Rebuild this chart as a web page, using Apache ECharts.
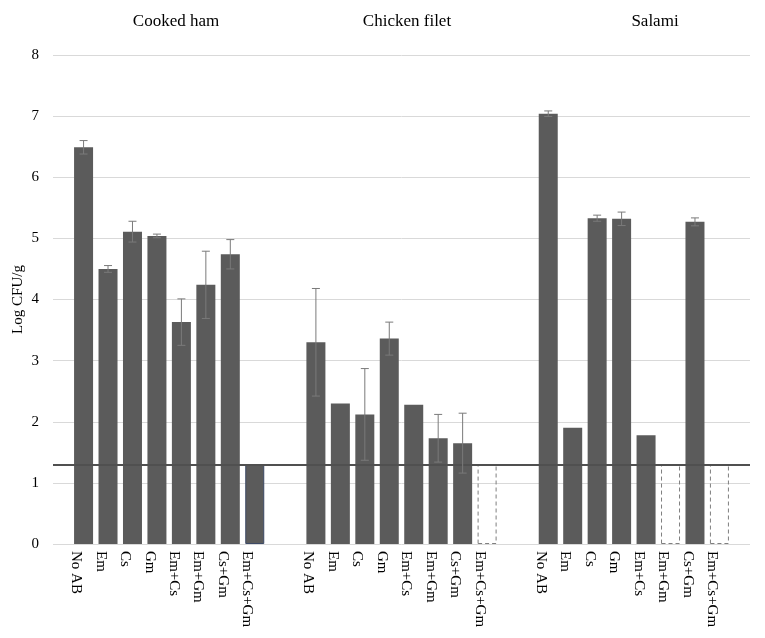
<!DOCTYPE html>
<html>
<head>
<meta charset="utf-8">
<script src="https://cdn.jsdelivr.net/npm/echarts@6/dist/echarts.min.js"></script>
<style>html,body{margin:0;padding:0;background:#fff}#c{width:765px;height:638px}</style>
</head>
<body>
<div id="c"></div>
<script>
var categories = ['No AB','Em','Cs','Gm','Em+Cs','Em+Gm','Cs+Gm','Em+Cs+Gm'];
var groups = ['Cooked ham','Chicken filet','Salami'];
var hamMeans = [6.49, 4.50, 5.11, 5.04, 3.63, 4.24, 4.74, 1.30];
var hamErr = [0.11, 0.055, 0.17, 0.03, 0.38, 0.55, 0.24, 0];
var chickenMeans = [3.30, 2.30, 2.12, 3.36, 2.28, 1.73, 1.65, null];
var chickenErr = [0.88, 0.01, 0.75, 0.27, 0.01, 0.39, 0.49, 0];
var salamiMeans = [7.04, 1.90, 5.33, 5.32, 1.78, null, 5.27, null];
var salamiErr = [0.045, 0.01, 0.05, 0.11, 0.01, 0, 0.065, 0];
var detectionLimit = 1.3;
var yTicks = [0,1,2,3,4,5,6,7,8];

var means = [hamMeans, chickenMeans, salamiMeans];
var errs = [hamErr, chickenErr, salamiErr];
var groupStart = [1.25, 10.75, 20.25];
var xMax = 28.5;

var barData = [], errData = [], labelPos = [], labelText = {};
for (var g = 0; g < 3; g++) {
  for (var i = 0; i < categories.length; i++) {
    var x = groupStart[g] + i;
    labelPos.push(x);
    labelText[x.toFixed(2)] = categories[i];
    var m = means[g][i];
    if (m === null) {
      barData.push({value: [x, detectionLimit], itemStyle: {color: 'rgba(255,255,255,0)', borderColor: '#7f7f7f', borderWidth: 1, borderType: [4, 3]}});
    } else if (g === 0 && i === 7) {
      barData.push({value: [x, m], itemStyle: {color: '#5b5b5b', borderColor: '#3d4a66', borderWidth: 1}});
    } else {
      barData.push({value: [x, m]});
    }
    if (m !== null && errs[g][i] > 0.02) errData.push([x, m, errs[g][i]]);
  }
}

var chart = echarts.init(document.getElementById('c'));
var font = 'Liberation Serif';
chart.setOption({
  animation: false,
  title: [
    {text: groups[0], left: 171, top: 8, textAlign: 'center', textStyle: {fontFamily: font, fontSize: 17, fontWeight: 'normal', color: '#000'}},
    {text: groups[1], left: 402, top: 8, textAlign: 'center', textStyle: {fontFamily: font, fontSize: 17, fontWeight: 'normal', color: '#000'}},
    {text: groups[2], left: 650, top: 8, textAlign: 'center', textStyle: {fontFamily: font, fontSize: 17, fontWeight: 'normal', color: '#000'}}
  ],
  grid: {left: 53, right: 15, top: 55, bottom: 94, containLabel: false, outerBoundsMode: 'none'},
  xAxis: {
    type: 'value', min: 0, max: xMax,
    splitLine: {show: false},
    axisLine: {show: false},
    axisTick: {show: false},
    axisLabel: {
      customValues: labelPos,
      rotate: -90,
      margin: 7,
      verticalAlign: 'top',
      fontFamily: font, fontSize: 15, color: '#000',
      formatter: function (v) { return labelText[Number(v).toFixed(2)] || ''; }
    }
  },
  yAxis: {
    type: 'value', min: 0, max: 8, interval: 1,
    name: 'Log CFU/g', nameLocation: 'middle', nameGap: 27, nameMoveOverlap: false,
    nameTextStyle: {fontFamily: font, fontSize: 15, color: '#000'},
    axisLine: {show: false}, axisTick: {show: false},
    axisLabel: {margin: 14, fontFamily: font, fontSize: 15, color: '#000'},
    splitLine: {lineStyle: {color: '#d9d9d9', width: 1}}
  },
  series: [
    {
      type: 'bar', data: barData, barWidth: 19,
      itemStyle: {color: '#5b5b5b'},
      markLine: {
        silent: true, symbol: 'none', label: {show: false},
        lineStyle: {color: '#505050', width: 2, type: 'solid'},
        data: [{yAxis: detectionLimit}]
      },
      z: 2
    },
    {
      type: 'custom', data: errData, z: 5,
      renderItem: function (params, api) {
        var x = api.value(0), y = api.value(1), e = api.value(2);
        var top = api.coord([x, y + e]);
        var bot = api.coord([x, y - e]);
        var hw = 4;
        var st = {stroke: '#7a7a7a', lineWidth: 1};
        return {type: 'group', children: [
          {type: 'line', shape: {x1: top[0], y1: top[1], x2: bot[0], y2: bot[1]}, style: st},
          {type: 'line', shape: {x1: top[0] - hw, y1: top[1], x2: top[0] + hw, y2: top[1]}, style: st},
          {type: 'line', shape: {x1: bot[0] - hw, y1: bot[1], x2: bot[0] + hw, y2: bot[1]}, style: st}
        ]};
      }
    }
  ]
});
</script>
</body>
</html>
